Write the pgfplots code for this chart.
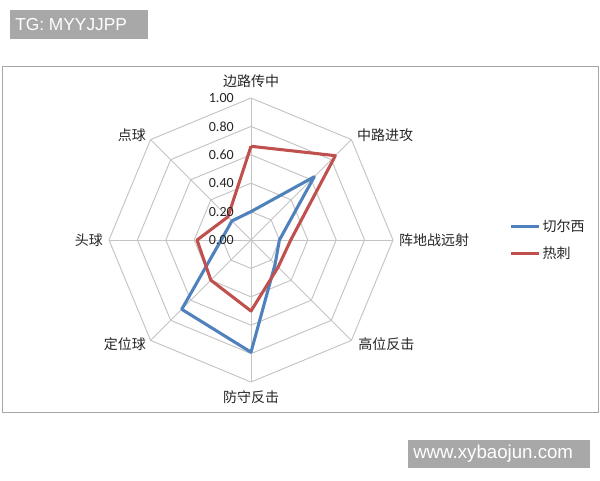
\documentclass[border=0pt]{standalone}
\usepackage{pgfplots}
\pgfplotsset{compat=1.18}
\usepackage{fontspec}
\setmainfont{Carlito}
\newfontfamily\cjk{Noto Sans CJK SC}
\newfontfamily\wm{Liberation Sans}
\definecolor{chelsea}{HTML}{4F81BD}
\definecolor{spurs}{HTML}{C0504D}
\definecolor{gridc}{HTML}{C4C4C4}
\definecolor{wmgray}{HTML}{A8A8A8}
\definecolor{txt}{HTML}{262626}

\begin{document}
\begin{tikzpicture}
\fill[white] (0,0) rectangle (450pt,-360pt);
\begin{axis}[
    at={(0,0)}, anchor=north west,
    width=450pt, height=360pt, scale only axis,
    xmin=-1.7676, xmax=2.4577, ymin=-1.6901, ymax=1.6901,
    hide axis, clip=false,
    legend style={at={(axis cs:1.79,0)}, anchor=west, draw=none, fill=none,
        font=\cjk\fontsize{10.5}{12}\selectfont, row sep=7.5pt,
        nodes={inner sep=1.5pt, text=txt}},
    legend cell align=left,
    legend image code/.code={\draw[#1] (0pt,0pt) -- (21pt,0pt);},
]
% octagon rings and spokes
\pgfplotsinvokeforeach{0.2,0.4,0.6,0.8,1.0}{
  \addplot[gridc, line width=0.7pt, line join=round, data cs=polar, forget plot]
    coordinates {(90,#1)(45,#1)(0,#1)(-45,#1)(-90,#1)(-135,#1)(180,#1)(135,#1)(90,#1)};
}
\pgfplotsinvokeforeach{90,45,0,-45,-90,-135,180,135}{
  \addplot[gridc, line width=0.7pt, data cs=polar, forget plot]
    coordinates {(#1,0)(#1,1)};
}
% Chelsea
\addplot[chelsea, line width=2.3pt, line join=round, data cs=polar] coordinates {
  (90,0.20)(45,0.63)(0,0.20)(-45,0.24)(-90,0.79)(-135,0.69)(180,0.21)(135,0.19)(90,0.20)
};
\addlegendentry{切尔西}
% Spurs
\addplot[spurs, line width=2.3pt, line join=round, data cs=polar] coordinates {
  (90,0.66)(45,0.84)(0,0.28)(-45,0.27)(-90,0.50)(-135,0.40)(180,0.38)(135,0.23)(90,0.66)
};
\addlegendentry{热刺}

% radial tick labels
\begin{scope}[every node/.style={inner sep=0pt, text=txt, anchor=east, font=\fontsize{10.5}{12}\selectfont}]
\node at (axis cs:-0.12,0) {0.00};
\node at (axis cs:-0.12,0.2) {0.20};
\node at (axis cs:-0.12,0.4) {0.40};
\node at (axis cs:-0.12,0.6) {0.60};
\node at (axis cs:-0.12,0.8) {0.80};
\node at (axis cs:-0.12,1.0) {1.00};
\end{scope}
% category labels
\begin{scope}[every node/.style={inner sep=0pt, text=txt, font=\cjk\fontsize{10.5}{12}\selectfont}]
\node[anchor=center] at (axis cs:0,1.12) {边路传中};
\node[anchor=west] at (axis cs:0.746,0.739) {中路进攻};
\node[anchor=west] at (axis cs:1.042,0) {阵地战远射};
\node[anchor=west] at (axis cs:0.754,-0.732) {高位反击};
\node[anchor=center] at (axis cs:0,-1.106) {防守反击};
\node[anchor=east] at (axis cs:-0.739,-0.732) {定位球};
\node[anchor=east] at (axis cs:-1.042,0) {头球};
\node[anchor=east] at (axis cs:-0.739,0.739) {点球};
\end{scope}
\end{axis}

% frame and watermarks (pixel coordinates, origin top left)
\begin{scope}[x=0.75pt, y=-0.75pt]
\draw[gray!70, line width=0.75pt] (2,66) rectangle (598,412);
\fill[wmgray] (10,10) rectangle (148,39);
\node[anchor=west, text=white, inner sep=0pt, font=\wm\fontsize{13}{15}\selectfont] at (15,24.5) {TG: MYYJJPP};
\fill[wmgray] (408,440) rectangle (590,468);
\node[anchor=west, text=white, inner sep=0pt, font=\wm\fontsize{14}{16}\selectfont] at (413,454) {www.xybaojun.com};
\end{scope}
\end{tikzpicture}
\end{document}
